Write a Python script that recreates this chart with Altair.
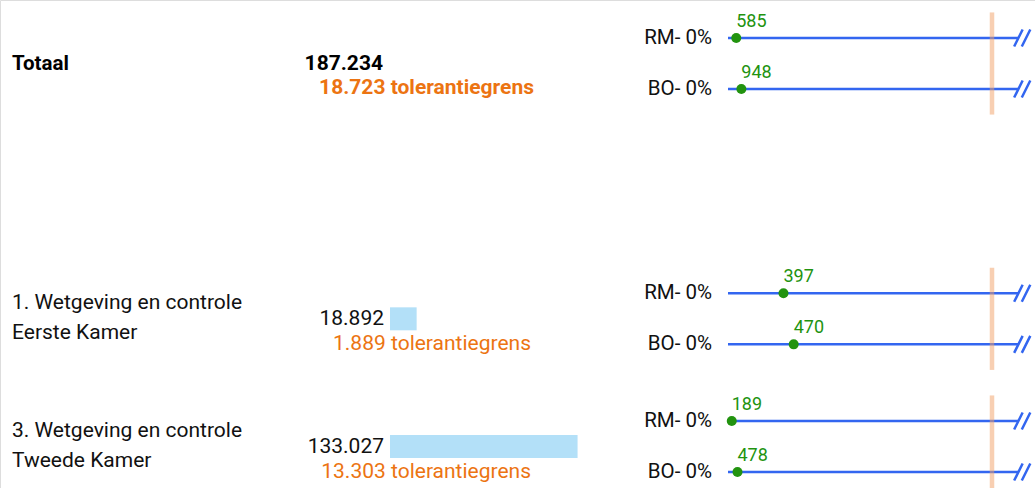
import altair as alt
import pandas as pd

# ---- data ----
categories = ["Totaal", "1. Wetgeving en controle\nEerste Kamer", "3. Wetgeving en controle\nTweede Kamer"]
row_index = [0, 2, 3]
kinds = ["total", "item", "item"]
totals = [187234, 18892, 133027]
tolerances = [18723, 1889, 13303]
rm_values = [585, 397, 189]
bo_values = [948, 470, 478]
rm_pct = [0, 0, 0]
bo_pct = [0, 0, 0]
series_names = ["RM", "BO"]

rows = pd.DataFrame({"label": categories, "row": row_index, "kind": kinds,
                     "total": totals, "tol": tolerances})

recs = []
for i in range(len(categories)):
    for s, vals, pcts, sub in (("RM", rm_values, rm_pct, -1), ("BO", bo_values, bo_pct, 1)):
        recs.append({"row": row_index[i], "series": s, "value": vals[i], "tol": tolerances[i],
                     "pct": pcts[i], "side": sub})
lines = pd.DataFrame(recs)

FONT = "Roboto"
BLUE = "#3366f0"
GREEN = "#22930f"
ORANGE = "#ec7412"

y_scale = alt.Scale(domain=[0, 3], range=[63.5, 446.5])
xl = alt.Scale(domain=[0, 1], range=[728, 992])
xb = alt.Scale(domain=[0, 187234], range=[390, 654])

base_rows = alt.Chart(rows)
base_lines = alt.Chart(lines).transform_calculate(
    yline="datum.row + 0.2 * datum.side",
    frac="datum.value / datum.tol",
    slabel="datum.series + '- ' + datum.pct + '%'",
)

Yr = alt.Y("row:Q", scale=y_scale, axis=None)
Yl = alt.Y("yline:Q", scale=y_scale, axis=None)

label_total = base_rows.transform_filter("datum.kind == 'total'").mark_text(
    align="left", baseline="middle", font=FONT, fontSize=20.5, fontWeight="bold", color="#000"
).encode(x=alt.value(12), y=Yr, text="label:N")

label_items = base_rows.transform_filter("datum.kind == 'item'").mark_text(
    align="left", baseline="middle", font=FONT, fontSize=21, color="#111",
    lineBreak="\n", lineHeight=30, dy=-16
).encode(x=alt.value(12), y=Yr, text="label:N")

val_total = base_rows.transform_filter("datum.kind == 'total'").mark_text(
    align="right", baseline="middle", font=FONT, fontSize=21, fontWeight="bold", color="#000"
).encode(x=alt.value(383), y=Yr, text=alt.Text("total:Q", format=","))

val_items = base_rows.transform_filter("datum.kind == 'item'").mark_text(
    align="right", baseline="middle", font=FONT, fontSize=21, color="#111"
).encode(x=alt.value(384), y=Yr, text=alt.Text("total:Q", format=","))

tol_total = base_rows.transform_filter("datum.kind == 'total'").transform_calculate(
    tlabel="format(datum.tol, ',') + ' tolerantiegrens'"
).mark_text(
    align="right", baseline="middle", dy=24, font=FONT, fontSize=21, fontWeight="bold", color=ORANGE
).encode(x=alt.value(534), y=Yr, text="tlabel:N")

tol_items = base_rows.transform_filter("datum.kind == 'item'").transform_calculate(
    tlabel="format(datum.tol, ',') + ' tolerantiegrens'"
).mark_text(
    align="right", baseline="middle", dy=25, font=FONT, fontSize=21, color=ORANGE
).encode(x=alt.value(531), y=Yr, text="tlabel:N")

bars = base_rows.transform_filter("datum.kind == 'item'").mark_rule(
    strokeWidth=23, color="#b3e0f8", strokeCap="butt"
).encode(
    x=alt.X("total:Q", scale=xb, axis=None),
    x2=alt.X2(datum=0),
    y=Yr,
)

band = base_rows.transform_calculate(
    ylo="datum.row - 0.4", yhi="datum.row + 0.4"
).mark_rule(strokeWidth=4.5, color="#f2a065", opacity=0.5).encode(
    x=alt.X(datum=1, scale=xl, axis=None),
    y=alt.Y("ylo:Q", scale=y_scale, axis=None),
    y2="yhi:Q",
)

track = base_lines.mark_rule(strokeWidth=2.5, color=BLUE).encode(
    x=alt.X(datum=0, scale=xl, axis=None),
    x2=alt.X2(datum=1.1),
    y=Yl,
)

slashes = base_lines.mark_point(
    shape="M-0.5,1L0.5,-1M0.4,1L1.4,-1", filled=False, strokeWidth=2.5,
    size=289, opacity=1, color=BLUE
).encode(x=alt.X(datum=1.1, scale=xl, axis=None), y=Yl)

dots = base_lines.mark_circle(size=100, color=GREEN, opacity=1).encode(
    x=alt.X("frac:Q", scale=xl, axis=None), y=Yl
)

dot_labels = base_lines.mark_text(
    align="left", baseline="alphabetic", dy=-11, font=FONT, fontSize=18, color=GREEN
).encode(x=alt.X("frac:Q", scale=xl, axis=None), y=Yl, text="value:Q")

series_labels = base_lines.mark_text(
    align="right", baseline="middle", font=FONT, fontSize=20.5, color="#111"
).encode(x=alt.value(712), y=Yl, text="slabel:N")

chart = alt.layer(
    label_total, label_items, val_total, val_items, tol_total, tol_items, bars,
    track, band, slashes, dots, dot_labels, series_labels
).resolve_scale(x="independent").properties(
    width=1035, height=488, autosize=alt.AutoSizeParams(type="none"), padding=0
).configure_view(stroke=None).configure(
    locale={"number": {"decimal": ",", "thousands": ".", "grouping": [3], "currency": ["€", ""]}}
)

chart.save("out.html", embed_options={"renderer": "svg", "actions": False})
